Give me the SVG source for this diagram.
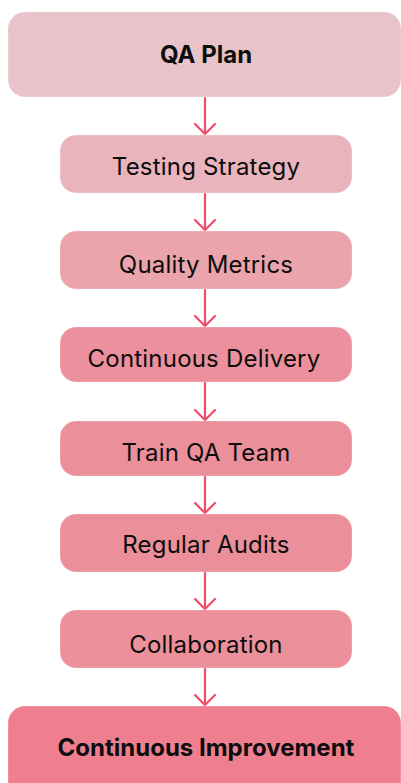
<svg xmlns="http://www.w3.org/2000/svg" width="401" height="783" viewBox="0 0 401 783">
  <defs>
    <marker id="chev" viewBox="0 0 12 22" refX="11" refY="11" markerWidth="12" markerHeight="22" markerUnits="userSpaceOnUse" orient="auto">
      <path d="M1,1 L11,11 L1,21" fill="none" stroke="#f24d6b" stroke-width="2.2" stroke-linecap="round" stroke-linejoin="round"/>
    </marker>
    <style>
      .box { stroke: #ffffff; stroke-opacity: 0.25; stroke-width: 1; }
      .lbl { font-family: Inter, "Noto Sans", "Liberation Sans", sans-serif; font-size: 24px; font-weight: 400; letter-spacing: 0.2px; fill: #0d0d0d; text-anchor: middle; }
      .bold { font-weight: 700; letter-spacing: 0; }
      .edge { stroke: #f24d6b; stroke-width: 2.2; fill: none; marker-end: url(#chev); }
    </style>
  </defs>

  <rect width="401" height="783" fill="#ffffff"/>

  <g id="connectors">
    <path class="edge" d="M205,97 V134"/>
    <path class="edge" d="M205,193 V230"/>
    <path class="edge" d="M205,289 V326"/>
    <path class="edge" d="M205,382 V420"/>
    <path class="edge" d="M205,476 V513"/>
    <path class="edge" d="M205,572 V609"/>
    <path class="edge" d="M205,668 V705"/>
  </g>

  <g id="qa-plan">
    <rect class="box" x="8" y="12" width="393" height="85" rx="17" fill="#e8c3c9"/>
    <text class="lbl bold" x="206" y="63">QA Plan</text>
  </g>

  <g id="testing-strategy">
    <rect class="box" x="60" y="135" width="292" height="58" rx="16" fill="#e9b4bc"/>
    <text class="lbl" x="206" y="175">Testing Strategy</text>
  </g>

  <g id="quality-metrics">
    <rect class="box" x="60" y="231" width="292" height="58" rx="16" fill="#eba3ac"/>
    <text class="lbl" x="206" y="273">Quality Metrics</text>
  </g>

  <g id="continuous-delivery">
    <rect class="box" x="60" y="327" width="292" height="55" rx="16" fill="#eb909c"/>
    <text class="lbl" x="204" y="367">Continuous Delivery</text>
  </g>

  <g id="train-qa-team">
    <rect class="box" x="60" y="421" width="292" height="55" rx="16" fill="#eb8f9b"/>
    <text class="lbl" x="206" y="461">Train QA Team</text>
  </g>

  <g id="regular-audits">
    <rect class="box" x="60" y="514" width="292" height="58" rx="16" fill="#eb8f9b"/>
    <text class="lbl" x="206" y="553">Regular Audits</text>
  </g>

  <g id="collaboration">
    <rect class="box" x="60" y="610" width="292" height="58" rx="16" fill="#ec909c"/>
    <text class="lbl" x="206" y="653">Collaboration</text>
  </g>

  <g id="continuous-improvement">
    <rect class="box" x="8" y="706" width="393" height="95" rx="17" fill="#ef7f8e"/>
    <text class="lbl bold" x="206" y="756">Continuous Improvement</text>
  </g>
</svg>
